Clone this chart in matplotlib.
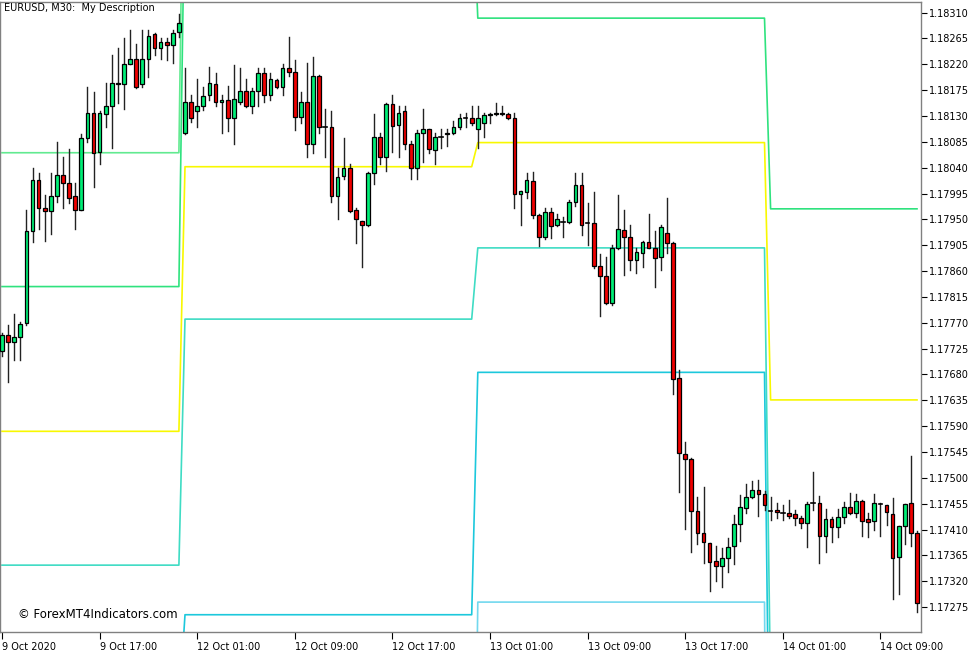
import numpy as np
import pandas as pd
import matplotlib
matplotlib.use("Agg")
import matplotlib.pyplot as plt
from matplotlib.patches import Rectangle

# EURUSD M30 candles, 9 Oct 2020 09:00 -> 14 Oct 2020 12:00
opens = [1.17720, 1.17748, 1.17736, 1.17745, 1.17769, 1.17929, 1.18018, 1.17969, 1.17964, 1.17990,
         1.18027, 1.18014, 1.17990, 1.17967, 1.18091, 1.18136, 1.18067, 1.18134, 1.18148, 1.18188,
         1.18185, 1.18221, 1.18230, 1.18185, 1.18230, 1.18272, 1.18249, 1.18258, 1.18254, 1.18277,
         1.18100, 1.18155, 1.18138, 1.18147, 1.18166, 1.18185, 1.18154, 1.18157, 1.18126, 1.18155,
         1.18174, 1.18147, 1.18174, 1.18204, 1.18166, 1.18192, 1.18181, 1.18214, 1.18206, 1.18129,
         1.18154, 1.18082, 1.18200, 1.18110, 1.18110, 1.17990, 1.18025, 1.18040, 1.17967, 1.17948,
         1.17940, 1.18030, 1.18093, 1.18058, 1.18150, 1.18115, 1.18138, 1.18082, 1.18040, 1.18100,
         1.18107, 1.18070, 1.18094, 1.18098, 1.18100, 1.18110, 1.18127, 1.18127, 1.18107, 1.18117,
         1.18131, 1.18134, 1.18136, 1.18134, 1.18126, 1.17995, 1.17997, 1.18016, 1.17957, 1.17919,
         1.17962, 1.17941, 1.17946, 1.17945, 1.17981, 1.18009, 1.17943, 1.17943, 1.17868, 1.17852,
         1.17804, 1.17901, 1.17931, 1.17920, 1.17880, 1.17891, 1.17910, 1.17900, 1.17884, 1.17926,
         1.17908, 1.17673, 1.17541, 1.17532, 1.17442, 1.17404, 1.17386, 1.17355, 1.17346, 1.17360,
         1.17381, 1.17419, 1.17447, 1.17466, 1.17479, 1.17472, 1.17442, 1.17444, 1.17439, 1.17439,
         1.17437, 1.17430, 1.17421, 1.17456, 1.17456, 1.17399, 1.17428, 1.17414, 1.17432, 1.17449,
         1.17439, 1.17459, 1.17428, 1.17425, 1.17454, 1.17452, 1.17437, 1.17362, 1.17416, 1.17456,
         1.17404]
highs = [1.17753, 1.17766, 1.17786, 1.17771, 1.17967, 1.18040, 1.18030, 1.17992, 1.18030, 1.18084,
         1.18058, 1.18072, 1.18014, 1.18098, 1.18181, 1.18171, 1.18138, 1.18187, 1.18237, 1.18249,
         1.18265, 1.18280, 1.18256, 1.18279, 1.18279, 1.18275, 1.18265, 1.18265, 1.18279, 1.18307,
         1.18214, 1.18166, 1.18194, 1.18181, 1.18216, 1.18204, 1.18166, 1.18183, 1.18218, 1.18214,
         1.18194, 1.18178, 1.18214, 1.18213, 1.18204, 1.18195, 1.18220, 1.18267, 1.18227, 1.18171,
         1.18223, 1.18232, 1.18202, 1.18143, 1.18138, 1.18040, 1.18091, 1.18047, 1.17969, 1.17948,
         1.18032, 1.18134, 1.18101, 1.18152, 1.18166, 1.18148, 1.18148, 1.18087, 1.18105, 1.18143,
         1.18108, 1.18100, 1.18108, 1.18108, 1.18122, 1.18134, 1.18136, 1.18148, 1.18148, 1.18136,
         1.18136, 1.18152, 1.18147, 1.18136, 1.18136, 1.18000, 1.18030, 1.18032, 1.17960, 1.17969,
         1.17969, 1.17960, 1.17954, 1.17983, 1.18030, 1.18030, 1.17978, 1.17997, 1.17889, 1.17884,
         1.17905, 1.17992, 1.17966, 1.17941, 1.17901, 1.17913, 1.17960, 1.17929, 1.17940, 1.17987,
         1.17910, 1.17687, 1.17562, 1.17534, 1.17466, 1.17484, 1.17386, 1.17381, 1.17378, 1.17395,
         1.17435, 1.17470, 1.17489, 1.17494, 1.17496, 1.17477, 1.17466, 1.17456, 1.17452, 1.17461,
         1.17444, 1.17433, 1.17458, 1.17510, 1.17468, 1.17446, 1.17432, 1.17446, 1.17458, 1.17473,
         1.17472, 1.17461, 1.17439, 1.17472, 1.17456, 1.17453, 1.17465, 1.17416, 1.17455, 1.17538,
         1.17407]
lows = [1.17712, 1.17666, 1.17705, 1.17706, 1.17766, 1.17910, 1.17934, 1.17913, 1.17924, 1.17980,
        1.17969, 1.17978, 1.17933, 1.17966, 1.18084, 1.18007, 1.18047, 1.18110, 1.18075, 1.18152,
        1.18143, 1.18220, 1.18178, 1.18180, 1.18197, 1.18237, 1.18230, 1.18228, 1.18223, 1.18267,
        1.18098, 1.18119, 1.18110, 1.18140, 1.18157, 1.18147, 1.18100, 1.18103, 1.18082, 1.18150,
        1.18145, 1.18136, 1.18148, 1.18155, 1.18157, 1.18178, 1.18167, 1.18200, 1.18105, 1.18117,
        1.18058, 1.18065, 1.18101, 1.18058, 1.17981, 1.17950, 1.18021, 1.17962, 1.17908, 1.17867,
        1.17938, 1.18011, 1.18047, 1.18034, 1.18067, 1.18058, 1.18073, 1.18020, 1.18021, 1.18049,
        1.18065, 1.18046, 1.18075, 1.18077, 1.18098, 1.18108, 1.18110, 1.18114, 1.18075, 1.18093,
        1.18117, 1.18131, 1.18131, 1.18124, 1.17969, 1.17940, 1.17987, 1.17952, 1.17903, 1.17915,
        1.17917, 1.17938, 1.17919, 1.17943, 1.17974, 1.17922, 1.17906, 1.17866, 1.17781, 1.17802,
        1.17801, 1.17899, 1.17854, 1.17861, 1.17856, 1.17867, 1.17900, 1.17832, 1.17861, 1.17891,
        1.17646, 1.17475, 1.17411, 1.17371, 1.17385, 1.17352, 1.17303, 1.17320, 1.17310, 1.17336,
        1.17350, 1.17390, 1.17439, 1.17465, 1.17433, 1.17444, 1.17426, 1.17430, 1.17426, 1.17430,
        1.17418, 1.17412, 1.17379, 1.17444, 1.17352, 1.17371, 1.17388, 1.17397, 1.17421, 1.17437,
        1.17432, 1.17399, 1.17397, 1.17409, 1.17399, 1.17418, 1.17289, 1.17298, 1.17385, 1.17381,
        1.17266]
closes = [1.17748, 1.17736, 1.17746, 1.17767, 1.17929, 1.18018, 1.17969, 1.17964, 1.17990, 1.18028,
          1.18014, 1.17988, 1.17966, 1.18091, 1.18136, 1.18065, 1.18136, 1.18148, 1.18188, 1.18185,
          1.18221, 1.18230, 1.18181, 1.18230, 1.18270, 1.18249, 1.18258, 1.18254, 1.18275, 1.18291,
          1.18154, 1.18126, 1.18147, 1.18164, 1.18187, 1.18154, 1.18157, 1.18126, 1.18159, 1.18174,
          1.18147, 1.18173, 1.18204, 1.18167, 1.18194, 1.18181, 1.18214, 1.18207, 1.18129, 1.18154,
          1.18082, 1.18200, 1.18110, 1.18110, 1.17990, 1.18023, 1.18039, 1.17964, 1.17950, 1.17940,
          1.18030, 1.18093, 1.18058, 1.18150, 1.18112, 1.18136, 1.18082, 1.18040, 1.18100, 1.18107,
          1.18072, 1.18093, 1.18094, 1.18100, 1.18110, 1.18126, 1.18127, 1.18117, 1.18126, 1.18131,
          1.18134, 1.18136, 1.18133, 1.18126, 1.17995, 1.17999, 1.18018, 1.17957, 1.17919, 1.17962,
          1.17938, 1.17950, 1.17947, 1.17981, 1.18009, 1.17940, 1.17943, 1.17868, 1.17852, 1.17804,
          1.17900, 1.17934, 1.17920, 1.17880, 1.17893, 1.17910, 1.17901, 1.17882, 1.17936, 1.17908,
          1.17672, 1.17543, 1.17532, 1.17442, 1.17404, 1.17388, 1.17353, 1.17346, 1.17360, 1.17379,
          1.17419, 1.17449, 1.17466, 1.17479, 1.17472, 1.17452, 1.17442, 1.17440, 1.17438, 1.17433,
          1.17430, 1.17421, 1.17454, 1.17456, 1.17399, 1.17428, 1.17414, 1.17432, 1.17449, 1.17439,
          1.17459, 1.17425, 1.17423, 1.17456, 1.17454, 1.17440, 1.17360, 1.17416, 1.17454, 1.17404,
          1.17282]

# sessions that are not (fully) on the chart: high, low, close
prior_sessions = {
    "2020-10-08": (1.17814, 1.17329, 1.17600),
    "2020-10-09": (1.18307, 1.17527, 1.18291),
}

price_ticks = [1.18310, 1.18265, 1.18220, 1.18175, 1.18130, 1.18085, 1.18040, 1.17995,
               1.17950, 1.17905, 1.17860, 1.17815, 1.17770, 1.17725, 1.17680, 1.17635,
               1.17590, 1.17545, 1.17500, 1.17455, 1.17410, 1.17365, 1.17320, 1.17275]
time_ticks = [0, 16, 32, 48, 64, 80, 96, 112, 128, 144]
time_labels = ["9 Oct 2020", "9 Oct 17:00", "12 Oct 01:00", "12 Oct 09:00", "12 Oct 17:00",
               "13 Oct 01:00", "13 Oct 09:00", "13 Oct 17:00", "14 Oct 01:00", "14 Oct 09:00"]

times = pd.date_range("2020-10-09 09:00", "2020-10-14 12:00", freq="30min")
times = times[times.dayofweek < 5]
df = pd.DataFrame({"open": opens, "high": highs, "low": lows, "close": closes}, index=times)
df["day"] = df.index.normalize()

# daily high/low/close -> classic floor pivots from the previous session
daily = df.groupby("day").agg(high=("high", "max"), low=("low", "min"), close=("close", "last"))
for d, hlc in prior_sessions.items():
    daily.loc[pd.Timestamp(d)] = hlc
daily = daily.sort_index()
prev = daily.shift(1).loc[df["day"]]
H, L, C = prev["high"].values, prev["low"].values, prev["close"].values
P = (H + L + C) / 3
rng = H - L
levels = [
    (P + 2 * rng, "#62ea90"),
    (P + rng, "#62ea90"),
    (2 * P - L, "#2fe27e"),
    (P, "#f8f800"),
    (2 * P - H, "#3fdcc4"),
    (P - rng, "#1cc8dc"),
    (P - 2 * rng, "#72d8ee"),
]

fig = plt.figure(figsize=(9.77, 6.52), dpi=100)
ax = fig.add_axes([0, 20 / 652, 921 / 977, 630.5 / 652])
x = np.arange(len(df))

for vals, col in levels:
    ax.plot(x, vals, color=col, lw=1.2, zorder=1)

bull = "#00ee76"
bear = "#f00000"
for i, (o, h, l, c) in enumerate(zip(opens, highs, lows, closes)):
    ax.plot([i, i], [l, h], color="#222222", lw=1, zorder=2)
    if abs(c - o) < 0.000015:
        ax.plot([i - 0.3, i + 0.3], [o, o], color="black", lw=1.2, zorder=3)
        continue
    col = bull if c > o else bear
    ax.add_patch(Rectangle((i - 0.3, min(o, c)), 0.6, abs(c - o),
                           facecolor=col, edgecolor="black", lw=0.9, zorder=3))

ax.set_xlim(-2 / 6.1, 919 / 6.1)
ax.set_ylim(1.172316, 1.183293)

ax.yaxis.tick_right()
ax.set_yticks(price_ticks)
ax.set_yticklabels([f"{p:.5f}" for p in price_ticks])
ax.tick_params(axis="y", direction="out", length=4, width=0.8, labelsize=7, pad=2, colors="black")
ax.set_xticks(time_ticks)
ax.set_xticklabels(time_labels, ha="left")
ax.tick_params(axis="x", direction="out", length=5, width=0.8, labelsize=7, pad=2)
for s in ax.spines.values():
    s.set_color("#808080")
    s.set_linewidth(1)

fig.text(4 / 977, 1 - 8 / 652, "EURUSD, M30:  My Description", fontsize=7, va="center")
fig.text(18 / 977, 1 - 615 / 652, "\u00a9 ForexMT4Indicators.com", fontsize=8.5, va="center")

fig.savefig("out.png", dpi=100)
